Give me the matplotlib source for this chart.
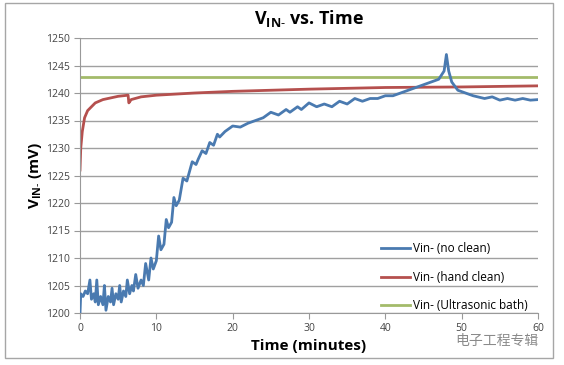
import matplotlib
matplotlib.use('Agg')
import matplotlib.pyplot as plt
from matplotlib.patches import Rectangle

# Vin- (no clean)
t_blue = [0, 0.1, 0.4, 0.7, 1.0, 1.3, 1.5, 1.8, 2.0, 2.2, 2.4, 2.7, 3.0, 3.2, 3.4,
          3.7, 4.0, 4.2, 4.4, 4.7, 5.0, 5.2, 5.4, 5.7, 6.0, 6.2, 6.5, 6.8, 7.0, 7.3,
          7.6, 8.0, 8.3, 8.6, 9.0, 9.3, 9.6, 10.0, 10.3, 10.6, 11.0, 11.3, 11.6,
          12.0, 12.3, 12.6, 13.0, 13.5, 14.0, 14.3, 14.7, 15.2, 15.5, 16.0, 16.5,
          17.0, 17.5, 18.0, 18.3, 19.0, 20, 21, 22, 23, 24, 25, 26,
          27, 27.5, 28.5, 29, 30, 31, 32, 33, 34, 35, 36, 37, 38, 39, 40, 41, 42, 43,
          44, 45, 46, 47, 47.7, 48.0, 48.3, 48.7, 49.5, 50.5, 51.5, 53, 54, 55, 56,
          57, 58, 59, 60]
v_blue = [1200, 1203.5, 1203, 1204, 1203.5, 1206, 1202.5, 1203.5, 1202, 1206, 1201.5,
          1203, 1201.5, 1205, 1200.5, 1203, 1202, 1204.5, 1201.5, 1203.5, 1202.5, 1205,
          1202, 1204, 1203, 1206, 1203.5, 1205, 1204, 1207, 1204.5, 1206, 1205, 1209,
          1206, 1210, 1208, 1209.5, 1214, 1211.5, 1212.5, 1217, 1215.5, 1216.5,
          1221, 1219.5, 1220.5, 1224.5, 1224, 1225.5, 1227.5, 1227, 1228, 1229.5,
          1229, 1231, 1230.5, 1232.5, 1232, 1233, 1234, 1233.8, 1234.5, 1235, 1235.5,
          1236.5, 1236, 1237, 1236.5, 1237.5, 1237, 1238.2, 1237.5, 1238, 1237.5,
          1238.5, 1238, 1239, 1238.5, 1239, 1239, 1239.5, 1239.5, 1240, 1240.5, 1241,
          1241.5, 1242, 1242.5, 1244, 1247, 1244, 1242, 1240.5, 1240, 1239.5, 1239,
          1239.3, 1238.7, 1239, 1238.7, 1239, 1238.7, 1238.8]

# Vin- (hand clean)
t_red = [0, 0.1, 0.3, 0.6, 1, 2, 3, 4, 5, 6.3, 6.4, 6.7, 8, 10, 15, 20, 30, 40, 50, 60]
v_red = [1226, 1230, 1233, 1235.5, 1236.8, 1238.2, 1238.8, 1239.1, 1239.4, 1239.6,
         1238.2, 1238.8, 1239.3, 1239.6, 1240, 1240.3, 1240.7, 1241, 1241.1, 1241.3]

# Vin- (Ultrasonic bath)
t_green = [0, 60]
v_green = [1243, 1243]

x_ticks = [0, 10, 20, 30, 40, 50, 60]
y_ticks = [1200, 1205, 1210, 1215, 1220, 1225, 1230, 1235, 1240, 1245, 1250]

plt.rcParams['font.family'] = ['Open Sans', 'Noto Sans CJK SC', 'DejaVu Sans']
plt.rcParams['mathtext.fontset'] = 'custom'
plt.rcParams['mathtext.rm'] = 'Open Sans'
plt.rcParams['mathtext.bf'] = 'Open Sans:bold'

fig = plt.figure(figsize=(5.64, 3.65), dpi=100, facecolor='white')
fig.patches.append(Rectangle((5 / 564, 1 - 358 / 365), 548 / 564, 355 / 365,
                             transform=fig.transFigure, facecolor='none',
                             edgecolor='#a6a6a6', linewidth=1, zorder=-1))
ax = fig.add_axes([80 / 564, 1 - 313 / 365, 458 / 564, 275 / 365])
ax.set_facecolor('none')

ax.plot(t_blue, v_blue, color='#4a7ab0', linewidth=2, label='Vin- (no clean)', zorder=3)
ax.plot(t_red, v_red, color='#b5504e', linewidth=2, label='Vin- (hand clean)', zorder=2)
ax.plot(t_green, v_green, color='#a3bb6a', linewidth=2, label='Vin- (Ultrasonic bath)', zorder=2)

ax.set_xlim(0, 60)
ax.set_ylim(1200, 1250)
ax.set_xticks(x_ticks)
ax.set_yticks(y_ticks)
ax.tick_params(axis='both', labelsize=7.5, colors='#444444', length=4, color='#999999')
ax.grid(axis='y', color='#a0a0a0', linewidth=1)
ax.set_axisbelow(True)
for s in ['top', 'right']:
    ax.spines[s].set_visible(False)
for s in ['left', 'bottom']:
    ax.spines[s].set_color('#999999')

ax.set_title('V$_{\\mathbf{IN}\\text{-}}$ vs. Time', fontsize=13, fontweight='bold', pad=10)
ax.set_xlabel('Time (minutes)', fontsize=11, fontweight='bold', labelpad=3)
ax.set_ylabel('V$_{\\mathbf{IN}\\text{-}}$ (mV)', fontsize=11, fontweight='bold', labelpad=1)

leg = ax.legend(loc='lower right', bbox_to_anchor=(1.0, -0.035), frameon=False,
                fontsize=8.5, labelspacing=1.3, handlelength=2.5, handletextpad=0.2)

fig.text(0.955, 0.065, '电子工程专辑', ha='right', va='center', fontsize=10,
         color='#8a8a8a', family=['Noto Sans CJK SC', 'DejaVu Sans'])

fig.savefig('out.png', dpi=100)
